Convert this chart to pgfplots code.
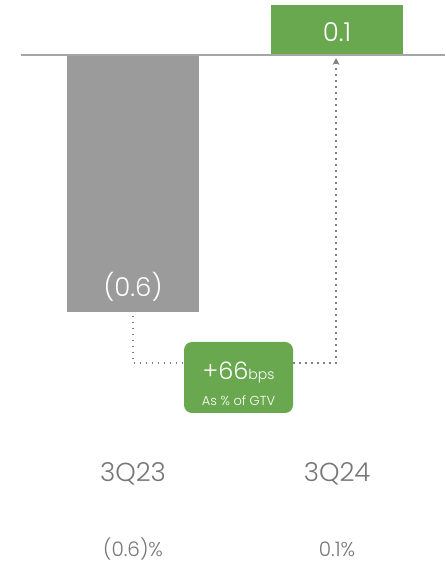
\documentclass[border=0pt]{standalone}
\usepackage{pgfplots}
\pgfplotsset{compat=1.18}
\usepackage{fontspec}
\setmainfont{Poppins}[UprightFont={* Light}]
\usetikzlibrary{arrows.meta}
\definecolor{barGray}{HTML}{9B9B9B}
\definecolor{barGreen}{HTML}{6AA84F}
\definecolor{lineGray}{HTML}{A6A6A6}
\definecolor{txtGray}{HTML}{767676}
\definecolor{dotGray}{HTML}{808080}
\begin{document}
\begin{tikzpicture}
\begin{axis}[
  hide axis,
  scale only axis,
  width=445pt, height=562pt,
  xmin=-0.652, xmax=1.529,
  ymin=-1.0857, ymax=0.1178,
  ybar, bar width=132pt, bar shift=0pt,
  clip=false,
]
\addplot[fill=barGray, draw=none] coordinates {(0,-0.55)};
\addplot[fill=barGreen, draw=none] coordinates {(1,0.107)};
\draw[lineGray, line width=1.5pt] (axis cs:-0.549,0) -- (axis cs:1.529,0);
% value labels
\node[white, font=\fontsize{26}{30}\selectfont] at (axis cs:1,0.049) {0.1};
\node[white, font=\fontsize{26}{30}\selectfont] at (axis cs:0,-0.497) {(0.6)};
% dotted connector
\draw[dotGray, line width=1.6pt, dash pattern=on 1.6pt off 4.4pt]
  (axis cs:0,-0.558) -- (axis cs:0,-0.6595) -- (axis cs:0.25,-0.6595);
\draw[dotGray, line width=1.6pt, dash pattern=on 1.6pt off 4.4pt, -{Stealth[length=7pt,width=7pt]}]
  (axis cs:0.784,-0.6595) -- (axis cs:0.995,-0.6595) -- (axis cs:0.995,-0.0064);
% green box
\node[fill=barGreen, rounded corners=8pt, minimum width=109pt, minimum height=71pt, inner sep=0pt]
  at (axis cs:0.517,-0.6906) {};
\node[white, anchor=base, font=\fontsize{24}{26}\selectfont] at (axis cs:0.517,-0.6945)
  {+66{\fontsize{14}{15}\selectfont bps}};
\node[white, anchor=base, font=\fontsize{13}{14}\selectfont] at (axis cs:0.517,-0.7495)
  {As \% of GTV};
% categories
\node[txtGray, font=\fontsize{26}{30}\selectfont] at (axis cs:0,-0.897) {3Q23};
\node[txtGray, font=\fontsize{26}{30}\selectfont] at (axis cs:1,-0.897) {3Q24};
\node[txtGray, inner sep=0pt, font=\fontsize{20}{24}\selectfont] at (axis cs:0,-1.058) {(0.6)\%};
\node[txtGray, inner sep=0pt, font=\fontsize{20}{24}\selectfont] at (axis cs:1,-1.058) {0.1\%};
\end{axis}
\pgfresetboundingbox
\useasboundingbox (current axis.south west) rectangle (current axis.north east);
\end{tikzpicture}
\end{document}
